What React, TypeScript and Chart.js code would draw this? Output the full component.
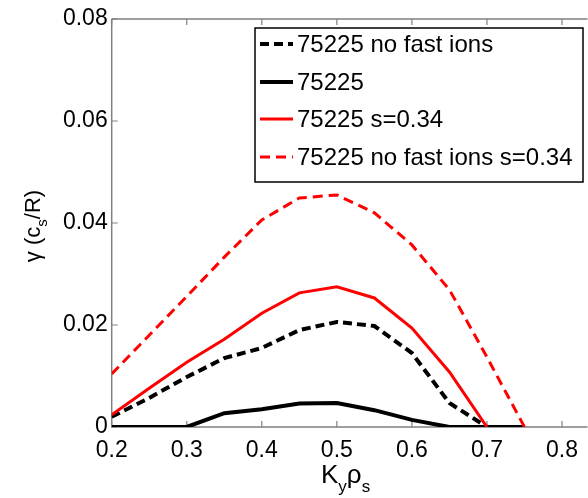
import React, { useEffect, useRef } from "react";
import { Chart, registerables } from "chart.js";

Chart.register(...registerables);

const kValues = [0.2, 0.25, 0.3, 0.35, 0.4, 0.45, 0.5, 0.55, 0.6, 0.65, 0.7, 0.75];
const noFastIons = [0.002, 0.0057, 0.0098, 0.0135, 0.0155, 0.019, 0.0206, 0.0198, 0.0145, 0.0047, 0, null];
const base75225 = [0, 0, 0, 0.0027, 0.0035, 0.0046, 0.0047, 0.0033, 0.0014, 0, 0, 0];
const sShift = [0.0024, 0.0076, 0.0127, 0.0172, 0.0223, 0.0263, 0.0275, 0.0253, 0.0194, 0.0108, 0, null];
const noFastIonsS = [0.0104, 0.018, 0.0256, 0.0333, 0.0406, 0.0449, 0.0455, 0.042, 0.0357, 0.0269, 0.0137, 0];

const seriesLabels = ["75225 no fast ions", "75225", "75225 s=0.34", "75225 no fast ions s=0.34"];
const xTicks = [0.2, 0.3, 0.4, 0.5, 0.6, 0.7, 0.8];
const yTicks = [0, 0.02, 0.04, 0.06, 0.08];

const FONT = "'Liberation Sans', Arial, Helvetica, sans-serif";

const framePlugin = {
  id: "frame",
  beforeDatasetsDraw(chart: any) {
    const { ctx, chartArea } = chart;
    const xs = chart.scales.x;
    const ys = chart.scales.y;
    ctx.save();
    ctx.strokeStyle = "#808080";
    ctx.lineWidth = 1.5;
    ctx.beginPath();
    ctx.moveTo(chartArea.left, chartArea.top);
    ctx.lineTo(chartArea.right, chartArea.top);
    ctx.moveTo(chartArea.left, chartArea.top);
    ctx.lineTo(chartArea.left, chartArea.bottom);
    ctx.lineTo(chartArea.right, chartArea.bottom);
    ctx.stroke();
    ctx.lineWidth = 1.2;
    ctx.beginPath();
    for (const t of xTicks) {
      const px = xs.getPixelForValue(t);
      ctx.moveTo(px, chartArea.bottom);
      ctx.lineTo(px, chartArea.bottom - 6);
      ctx.moveTo(px, chartArea.top);
      ctx.lineTo(px, chartArea.top + 6);
    }
    for (const t of yTicks) {
      const py = ys.getPixelForValue(t);
      ctx.moveTo(chartArea.left, py);
      ctx.lineTo(chartArea.left + 6, py);
    }
    ctx.stroke();
    ctx.restore();
  },
  afterDraw(chart: any) {
    const { ctx } = chart;
    ctx.save();
    // legend box
    const bx = 255, by = 28, bw = 328, bh = 154;
    ctx.fillStyle = "#ffffff";
    ctx.fillRect(bx, by, bw, bh);
    ctx.strokeStyle = "#000000";
    ctx.lineWidth = 1.5;
    ctx.setLineDash([]);
    ctx.strokeRect(bx, by, bw, bh);
    const rows = [44, 82, 119, 157];
    chart.data.datasets.forEach((ds: any, i: number) => {
      const y = rows[i];
      ctx.strokeStyle = ds.borderColor;
      ctx.lineWidth = ds.borderWidth;
      ctx.setLineDash(ds.borderDash || []);
      ctx.beginPath();
      ctx.moveTo(260, y);
      ctx.lineTo(293, y);
      ctx.stroke();
      ctx.setLineDash([]);
      ctx.fillStyle = "#000000";
      ctx.font = `24px ${FONT}`;
      ctx.textBaseline = "middle";
      ctx.textAlign = "left";
      ctx.fillText(ds.label, 297, y + 1);
    });

    // x axis title K_y rho_s
    ctx.fillStyle = "#000000";
    ctx.textBaseline = "alphabetic";
    ctx.textAlign = "left";
    let x = 321;
    const base = 483;
    ctx.font = `26px ${FONT}`;
    ctx.fillText("K", x, base);
    x += ctx.measureText("K").width;
    ctx.font = `17px ${FONT}`;
    ctx.fillText("y", x, base + 9);
    x += ctx.measureText("y").width;
    ctx.font = `26px ${FONT}`;
    ctx.fillText("ρ", x, base);
    x += ctx.measureText("ρ").width;
    ctx.font = `17px ${FONT}`;
    ctx.fillText("s", x, base + 9);

    // y axis title gamma (c_s/R)
    ctx.save();
    ctx.translate(40, 226);
    ctx.rotate(-Math.PI / 2);
    const parts: [string, boolean][] = [["γ (c", false], ["s", true], ["/R)", false]];
    const mainF = `22px ${FONT}`;
    const subF = `15px ${FONT}`;
    let total = 0;
    for (const [t, sub] of parts) {
      ctx.font = sub ? subF : mainF;
      total += ctx.measureText(t).width;
    }
    let cx = -total / 2;
    for (const [t, sub] of parts) {
      ctx.font = sub ? subF : mainF;
      ctx.fillText(t, cx, sub ? 7 : 0);
      cx += ctx.measureText(t).width;
    }
    ctx.restore();
    ctx.restore();
  },
};

export default function App() {
  const ref = useRef<HTMLCanvasElement | null>(null);
  useEffect(() => {
    if (!ref.current) return;
    const toPts = (arr: (number | null)[]) => kValues.map((k, i) => ({ x: k, y: arr[i] }));
    const chart = new Chart(ref.current, {
      type: "line",
      data: {
        datasets: [
          { label: seriesLabels[0], data: toPts(noFastIons), borderColor: "#000000", borderWidth: 4, borderDash: [9, 5], pointRadius: 0, spanGaps: false, order: 3 },
          { label: seriesLabels[1], data: toPts(base75225), borderColor: "#000000", borderWidth: 4, pointRadius: 0, order: 4 },
          { label: seriesLabels[2], data: toPts(sShift), borderColor: "#ff0000", borderWidth: 3, pointRadius: 0, order: 2 },
          { label: seriesLabels[3], data: toPts(noFastIonsS), borderColor: "#ff0000", borderWidth: 3, borderDash: [10, 6], pointRadius: 0, order: 1 },
        ] as any,
      },
      options: {
        animation: false,
        responsive: false,
        devicePixelRatio: 1,
        layout: { padding: { top: 19, right: 0, left: 0, bottom: 0 } },
        plugins: { legend: { display: false }, tooltip: { enabled: false }, title: { display: false } },
        elements: { line: { tension: 0, borderCapStyle: "butt", borderJoinStyle: "miter" } },
        scales: {
          x: {
            type: "linear",
            min: 0.2,
            max: 0.834,
            grid: { display: false, drawTicks: false },
            border: { display: false },
            afterBuildTicks: (s: any) => { s.ticks = xTicks.map((v) => ({ value: v })); },
            afterFit: (s: any) => { s.height = 71; },
            ticks: {
              autoSkip: false,
              maxRotation: 0,
              padding: 10,
              color: "#000000",
              font: { family: FONT, size: 23 },
              callback: (v: any) => Number(v).toFixed(1),
            },
          },
          y: {
            type: "linear",
            min: 0,
            max: 0.08,
            grid: { display: false, drawTicks: false },
            border: { display: false },
            afterBuildTicks: (s: any) => { s.ticks = yTicks.map((v) => ({ value: v })); },
            afterFit: (s: any) => { s.width = 111.7; },
            ticks: {
              autoSkip: false,
              padding: 4,
              color: "#000000",
              font: { family: FONT, size: 23 },
              callback: (v: any) => (Number(v) === 0 ? "0" : Number(v).toFixed(2)),
            },
          },
        },
      },
      plugins: [framePlugin],
    });
    return () => chart.destroy();
  }, []);
  return (
    <canvas
      ref={ref}
      width={588}
      height={498}
      style={{ position: "absolute", left: 0, top: 0, width: 588, height: 498, background: "#ffffff" }}
    />
  );
}
